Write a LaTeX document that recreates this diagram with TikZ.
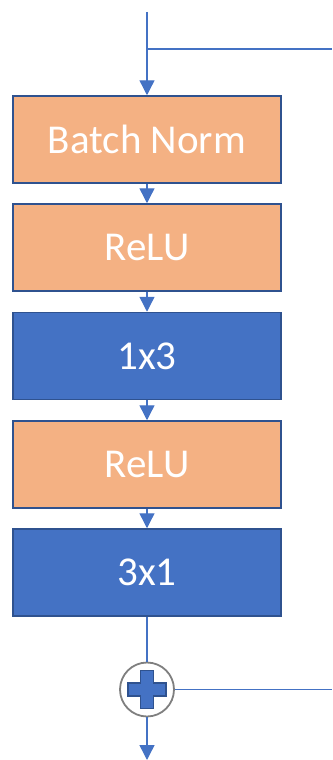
\documentclass[tikz,border=0pt]{standalone}
\usepackage{fontspec}
\setmainfont{Carlito}
\usetikzlibrary{arrows.meta}
\definecolor{boxorange}{HTML}{F4B183}
\definecolor{boxblue}{HTML}{4472C4}
\definecolor{edgeblue}{HTML}{2F528F}
\definecolor{wire}{HTML}{4472C4}
\definecolor{ringgray}{HTML}{7F7F7F}
\begin{document}
\begin{tikzpicture}[x=1pt,y=-1pt,
  layer/.style={draw=edgeblue, line width=1.5pt, minimum width=268pt, minimum height=87pt,
    inner sep=0pt, text=white, font=\fontsize{41}{41}\selectfont},
  actbox/.style={layer, fill=boxorange},
  convbox/.style={layer, fill=boxblue},
  link/.style={draw=wire, line width=1.4pt},
  flow/.style={link, -{Triangle[length=15pt, width=15pt]}},
  sumnode/.style={circle, draw=ringgray, fill=white, line width=1.8pt, minimum size=54pt, inner sep=0pt}]
\useasboundingbox (0,0) rectangle (332,760);

% residual block layers
\node[actbox]  (bn)    at (147,139.5) {Batch Norm};
\node[actbox]  (relu1) at (147,247.5) {ReLU};
\node[convbox] (c13)   at (147,356)   {1x3};
\node[actbox]  (relu2) at (147,464.5) {ReLU};
\node[convbox] (c31)   at (147,572.5) {3x1};
\node[sumnode] (sum)   at (147,689.5) {};

% plus sign inside the adder
\draw[fill=boxblue, draw=edgeblue, line width=1.2pt, shift={(sum.center)}]
  (-6.5,-19) -- (6.5,-19) -- (6.5,-6.5) -- (19,-6.5) -- (19,6.5) -- (6.5,6.5)
  -- (6.5,19) -- (-6.5,19) -- (-6.5,6.5) -- (-19,6.5) -- (-19,-6.5) -- (-6.5,-6.5) -- cycle;

% input, skip branch and output
\coordinate (in)     at (147,12);
\coordinate (split)  at (147,49);
\coordinate (skipA)  at (332,49);
\coordinate (skipB)  at (332,689.5);
\coordinate (out)    at (147,760);

\draw[flow] (in) -- (bn.north);
\draw[link] (split) -- (skipA);
\draw[flow] (bn) -- (relu1);
\draw[flow] (relu1) -- (c13);
\draw[flow] (c13) -- (relu2);
\draw[flow] (relu2) -- (c31);
\draw[link] (c31.south) -- (sum.north);
\draw[link] (sum.east) -- (skipB);
\draw[flow] (sum.south) -- (out);
\end{tikzpicture}
\end{document}
